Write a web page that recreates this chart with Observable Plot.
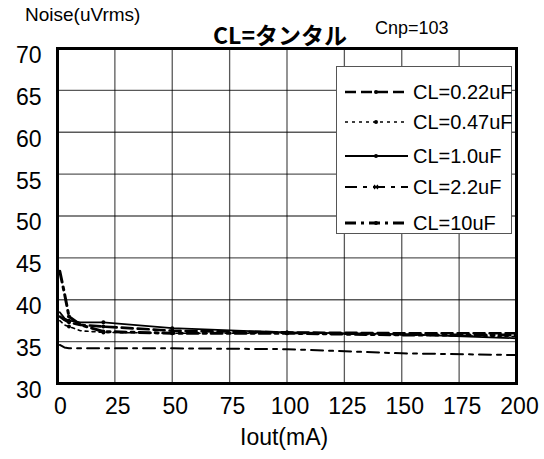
<!DOCTYPE html>
<html>
<head>
<meta charset="utf-8">
<script src="https://cdn.jsdelivr.net/npm/d3@7"></script>
<script src="https://cdn.jsdelivr.net/npm/@observablehq/plot@0.6"></script>
<style>
  body { margin: 0; background: #fff; }
  #wrap { position: relative; width: 544px; height: 459px; font-family: "Liberation Sans", Arial, sans-serif; }
  .t { position: absolute; white-space: nowrap; color: #000; }
</style>
</head>
<body>
<div id="wrap"></div>
<script>
const xTicks = [0, 25, 50, 75, 100, 125, 150, 175, 200];
const yTicks = [30, 35, 40, 45, 50, 55, 60, 65, 70];
const seriesNames = ["CL=0.22uF", "CL=0.47uF", "CL=1.0uF", "CL=2.2uF", "CL=10uF"];

const iout = [1, 3, 5, 10, 20, 50, 100, 150, 200];
const noise022 = [38.0, 37.6, 37.3, 37.0, 36.8, 36.3, 36.1, 36.0, 36.0];
const noise047 = [37.5, 37.0, 36.8, 36.3, 36.1, 36.0, 36.0, 35.8, 35.6];
const noise10  = [38.5, 37.8, 37.5, 37.3, 37.3, 36.6, 36.1, 35.9, 35.4];
const noise22  = [34.6, 34.3, 34.2, 34.2, 34.2, 34.2, 34.1, 33.6, 33.4];
const noise100 = [43.4, 40.8, 38.0, 37.0, 36.2, 36.0, 36.0, 35.8, 35.8];

const styles = [
  {strokeWidth: 2.6, dash: "11,5", marker: "dot"},
  {strokeWidth: 1.6, dash: "3,4", marker: "dot"},
  {strokeWidth: 1.8, dash: null, marker: "dot"},
  {strokeWidth: 2, dash: "12,6,4,6", marker: "cross"},
  {strokeWidth: 3, dash: "11,5,3,5", marker: "dot"}
];
const allSeries = [noise022, noise047, noise10, noise22, noise100];
const data = allSeries.flatMap((vals, s) => vals.map((v, i) => ({series: seriesNames[s], x: iout[i], y: v, s})));

const font = '"Liberation Sans", Arial, sans-serif';

const marks = [
  Plot.gridX(xTicks, {stroke: "#000", strokeOpacity: 0.65, strokeWidth: 1.3}),
  Plot.gridY(yTicks, {stroke: "#000", strokeOpacity: 0.65, strokeWidth: 1.3}),
];
seriesNames.forEach((name, s) => {
  const d = data.filter(r => r.s === s);
  marks.push(Plot.line(d, {x: "x", y: "y", stroke: "#000", strokeWidth: styles[s].strokeWidth, strokeDasharray: styles[s].dash || undefined}));
  marks.push(Plot.dot(d.filter(r => [5, 20, 50, 100].includes(r.x)), {x: "x", y: "y", r: 2, fill: "#000", symbol: styles[s].marker === "cross" ? "times" : "circle"}));
});
marks.push(Plot.frame({stroke: "#000", strokeWidth: 3}));
marks.push(Plot.axisX(xTicks, {tickSize: 0, tickPadding: 14, fontSize: 23, dx: 3, label: null}));
marks.push(Plot.axisY(yTicks, {tickSize: 0, tickPadding: 16, fontSize: 23, dy: 7, label: null}));

const chart = Plot.plot({
  width: 544, height: 459,
  marginLeft: 57, marginRight: 28, marginTop: 48, marginBottom: 76,
  x: {domain: [0, 200], label: null},
  y: {domain: [30, 70], label: null},
  style: {fontFamily: font, background: "#fff", color: "#000"},
  marks
});
const wrap = document.getElementById("wrap");
wrap.appendChild(chart);

function addText(txt, left, top, size, extra) {
  const d = document.createElement("div");
  d.className = "t";
  d.textContent = txt;
  d.style.left = left + "px"; d.style.top = top + "px"; d.style.fontSize = size + "px";
  if (extra) Object.assign(d.style, extra);
  wrap.appendChild(d);
}
addText("Noise(uVrms)", 25, 4, 19);
addText("CL=タンタル", 213, 17, 23, {fontFamily: '"Noto Sans CJK JP", sans-serif', fontWeight: "bold"});
addText("Cnp=103", 375, 18, 18);
addText("Iout(mA)", 240, 424, 23);

const lg = d3.select(wrap).append("svg")
  .attr("width", 177).attr("height", 169)
  .style("position", "absolute").style("left", "336px").style("top", "66px");
lg.append("rect").attr("x", 0.5).attr("y", 0.5).attr("width", 175).attr("height", 167)
  .attr("fill", "#fff").attr("stroke", "#555").attr("stroke-width", 1);
seriesNames.forEach((name, s) => {
  const cy = [26, 56, 90, 121, 157][s];
  lg.append("line").attr("x1", 9).attr("x2", 72).attr("y1", cy).attr("y2", cy)
    .attr("stroke", "#000").attr("stroke-width", styles[s].strokeWidth)
    .attr("stroke-dasharray", styles[s].dash);
  if (styles[s].marker === "cross") {
    lg.append("path").attr("d", `M38,${cy-2}L42,${cy+2}M42,${cy-2}L38,${cy+2}`).attr("stroke", "#000").attr("stroke-width", 1.2);
  } else {
    lg.append("circle").attr("cx", 40).attr("cy", cy).attr("r", 2).attr("fill", "#000");
  }
  lg.append("text").attr("x", 77).attr("y", cy).attr("dy", "0.36em")
    .attr("font-size", 20).attr("font-family", font).text(name);
});
</script>
</body>
</html>
